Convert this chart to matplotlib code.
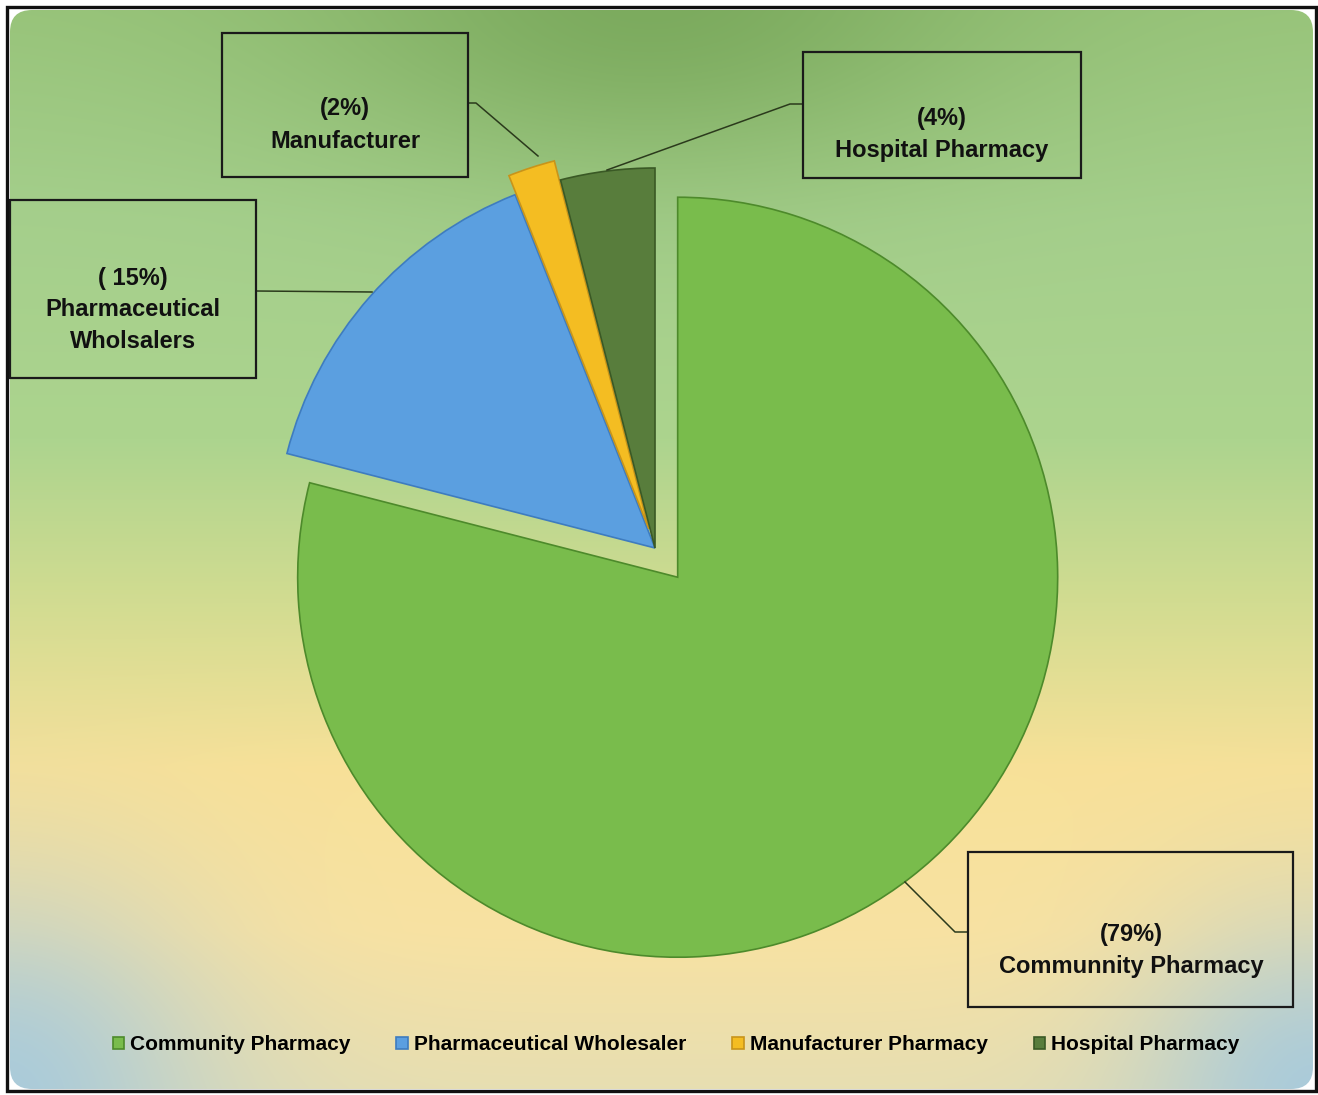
import numpy as np
import matplotlib as mpl
mpl.use('Agg')
import matplotlib.pyplot as plt
from matplotlib.patches import Rectangle, FancyBboxPatch

# Data
labels = ['Community Pharmacy', 'Pharmaceutical Wholesaler',
          'Manufacturer Pharmacy', 'Hospital Pharmacy']
shares = [79, 15, 2, 4]
box_texts = ['(79%)\nCommunnity Pharmacy',
             '( 15%)\nPharmaceutical\nWholsalers',
             '(2%)\nManufacturer',
             '(4%)\nHospital Pharmacy']

# Style
colors = ['#79bc4c', '#5b9fe0', '#f4bd22', '#587d3c']
edges = ['#4d8a2b', '#3e7cbf', '#c8941a', '#3a5925']
explode = [37, 0, 20, 0]   # pixels

W, H = 1318, 1095
plt.rcParams['font.family'] = ['Liberation Sans', 'DejaVu Sans']
fig = plt.figure(figsize=(W / 100, H / 100), dpi=100, facecolor='w')
ax = fig.add_axes([0, 0, 1, 1])

# background gradient
yy, xx = np.mgrid[0:H, 0:W]
t = yy / H
stops = [0, .2, .4, .55, .7, .85, 1]
cols = np.array([(152, 196, 122), (165, 207, 140), (172, 212, 142),
                 (210, 220, 145), (248, 225, 152), (248, 226, 162),
                 (230, 222, 178)]) / 255
bg = np.stack([np.interp(t, stops, cols[:, k]) for k in range(3)], axis=-1)


def blend(img, w, c):
    w = w[..., None]
    return img * (1 - w) + np.array(c) / 255 * w


bg = blend(bg, np.exp(-((xx - 650) / 330) ** 2 - (yy / 170) ** 2) * 0.7, (112, 160, 82))
d1 = np.hypot(xx, yy - H)
d2 = np.hypot(xx - W, yy - H)
bg = blend(bg, np.exp(-(d1 / 210) ** 2) * 0.85, (160, 200, 225))
bg = blend(bg, np.exp(-(d2 / 180) ** 2) * 0.85, (160, 200, 225))

im = ax.imshow(bg, extent=(0, W, 0, H), zorder=0, aspect='auto')
clip = FancyBboxPatch((10, 6), 1303, 1079, boxstyle='round,pad=0,rounding_size=22',
                      transform=ax.transData, fc='none', ec='none')
ax.add_patch(clip)
im.set_clip_path(clip)
ax.add_patch(Rectangle((7, 4), 1309, 1084, fill=False, ec='#111111', lw=2.4, zorder=5))

# pie
wedges, _ = ax.pie(shares, colors=colors, explode=explode, startangle=90,
                   counterclock=False, center=(655, H - 548), radius=380,
                   wedgeprops=dict(linewidth=1.2))
for w, ec in zip(wedges, edges):
    w.set_edgecolor(ec)
    w.set_zorder(2)

# label boxes (x0, y_top, width, height) in pixel space
boxes = [(968, 852, 325, 155), (10, 200, 246, 178),
         (222, 33, 246, 144), (803, 52, 278, 126)]
text_pos = [(1131, 950), (133, 310), (345, 125), (942, 135)]
leaders = [[(968, 932), (955, 932), (905, 882)],
           [(256, 291), (372, 292)],
           [(468, 103), (476, 103), (538, 156)],
           [(803, 104), (790, 104), (607, 170)]]
for (x0, yt, bw, bh), (tx, ty), txt, ln in zip(boxes, text_pos, box_texts, leaders):
    ax.add_patch(Rectangle((x0, H - yt - bh), bw, bh, fill=False, ec='#1a1a1a',
                           lw=1.6, zorder=4))
    ax.text(tx, H - ty, txt, ha='center', va='center', fontsize=17,
            fontweight='bold', color='#111111', linespacing=1.5, zorder=4)
    ax.plot([p[0] for p in ln], [H - p[1] for p in ln], color='#2b3a1c',
            lw=1.1, zorder=3)

ax.set_xlim(0, W)
ax.set_ylim(0, H)
ax.axis('off')

leg = ax.legend(wedges, labels, loc='center', bbox_to_anchor=(0.513, 1 - 1045 / H),
                ncol=4, frameon=False, handlelength=0.55, handleheight=0.55,
                handletextpad=0.3, columnspacing=2.2,
                prop=dict(size=15, weight='bold'))

fig.savefig('out.png', dpi=100, facecolor='w')
